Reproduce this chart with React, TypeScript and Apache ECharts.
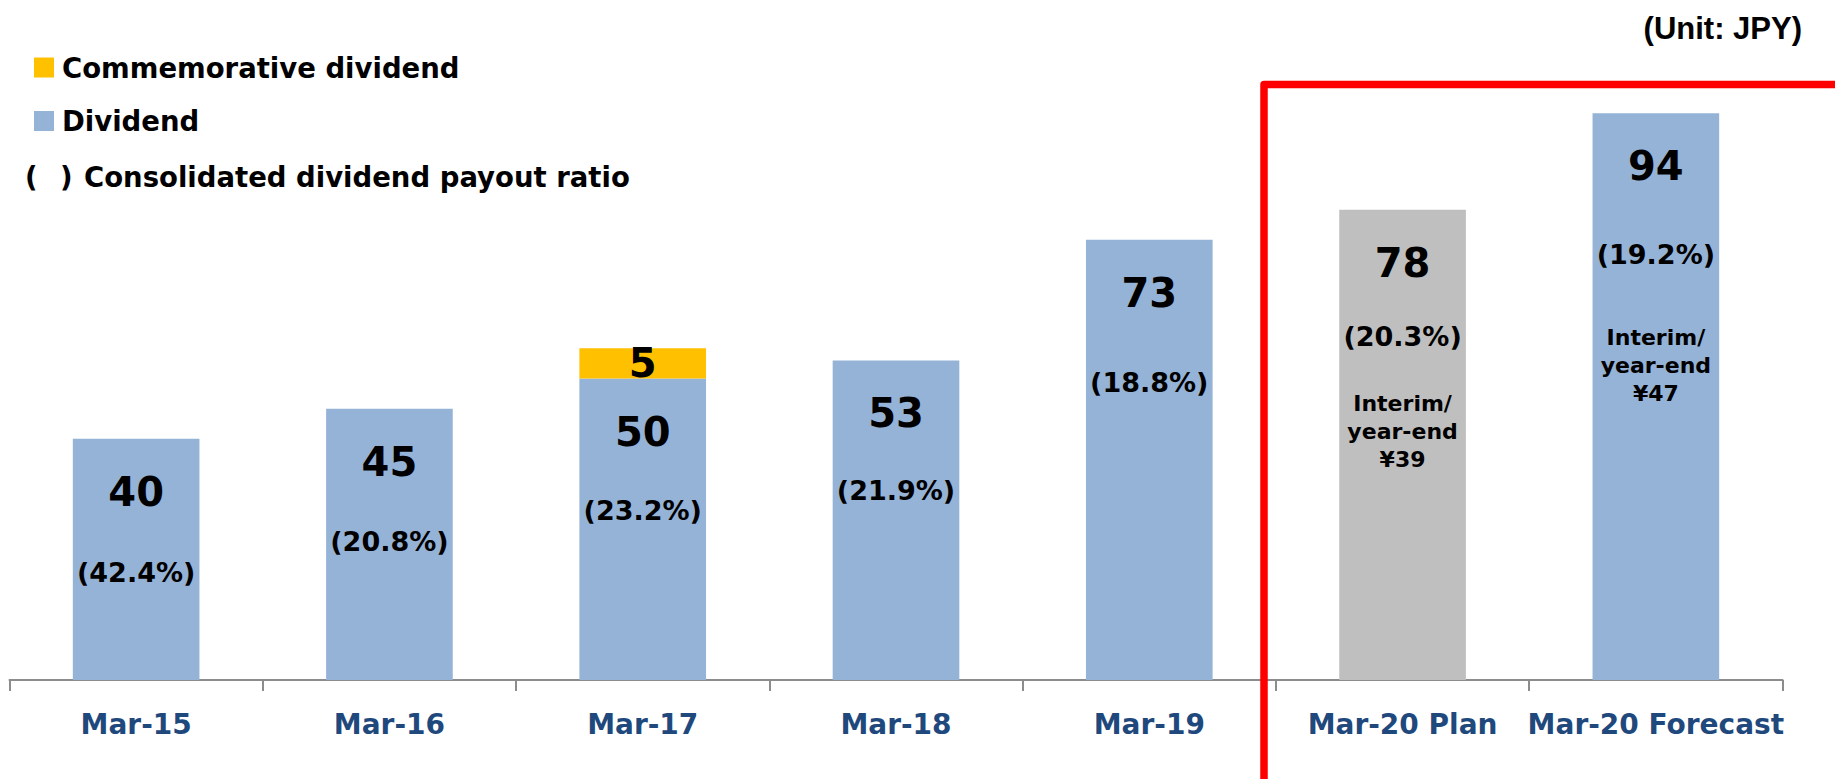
import React, { useEffect, useRef } from "react";
import * as echarts from "echarts";

// ---------- data ----------
const categories = ["Mar-15", "Mar-16", "Mar-17", "Mar-18", "Mar-19", "Mar-20 Plan", "Mar-20 Forecast"];
const dividend = [40, 45, 50, 53, 73, 78, 94];
const commemorative = [null, null, 5, null, null, null, null];
const payoutRatio = [42.4, 20.8, 23.2, 21.9, 18.8, 20.3, 19.2];
const interimYearEnd = [null, null, null, null, null, 39, 47];
const barKind = ["actual", "actual", "actual", "actual", "actual", "plan", "forecast"];

// ---------- layout (label spacing inside bars, px) ----------
const ratioGap = [44, 43, 42, 40, 53, 37, 51];
const interimGap = [0, 0, 0, 0, 0, 38, 54];

const FONT = '"DejaVu Sans", Verdana, sans-serif';
const BLUE = "#95B3D7";
const GRAY = "#BFBFBF";
const GOLD = "#FFC000";

function buildOption() {
  const dividendData = dividend.map((v, i) => {
    let text = `{v|${v}}\n{g| }\n{p|(${payoutRatio[i].toFixed(1)}%)}`;
    if (interimYearEnd[i] != null) {
      text += `\n{h| }\n{n|Interim/}\n{n|year-end}\n{n|¥${interimYearEnd[i]}}`;
    }
    return {
      value: v,
      itemStyle: { color: barKind[i] === "plan" ? GRAY : BLUE },
      label: {
        show: true,
        position: "insideTop",
        distance: 31,
        formatter: text,
        rich: {
          v: { fontSize: 40, fontWeight: "bold", lineHeight: 44, color: "#000", fontFamily: FONT, align: "center" },
          g: { fontSize: 8, lineHeight: ratioGap[i] },
          p: { fontSize: 27, fontWeight: "bold", lineHeight: 30, color: "#000", fontFamily: FONT, align: "center" },
          h: { fontSize: 8, lineHeight: interimGap[i] },
          n: { fontSize: 22, fontWeight: "bold", lineHeight: 28, color: "#000", fontFamily: FONT, align: "center" },
        },
      },
    };
  });

  return {
    animation: false,
    backgroundColor: "#fff",
    grid: { left: 9.5, right: 52.5, top: 77, bottom: 99, containLabel: false },
    legend: {
      data: ["Commemorative dividend", "Dividend"],
      orient: "vertical",
      left: 34,
      top: 53.5,
      padding: 0,
      itemWidth: 20,
      itemHeight: 20,
      itemGap: 25.5,
      icon: "rect",
      selectedMode: false,
      textStyle: { fontSize: 27.5, fontWeight: "bold", color: "#000", fontFamily: FONT, padding: [0, 0, 0, 3] },
    },
    xAxis: {
      type: "category",
      data: categories,
      axisLine: { show: true, lineStyle: { color: "#8C8C8C", width: 2 } },
      axisTick: { show: true, interval: 0, alignWithLabel: false, length: 11, lineStyle: { color: "#8C8C8C", width: 2 } },
      axisLabel: {
        interval: 0,
        margin: 30,
        fontSize: 28,
        fontWeight: "bold",
        color: "#1F497D",
        fontFamily: FONT,
      },
    },
    yAxis: { type: "value", min: 0, max: 100, show: false, splitLine: { show: false } },
    series: [
      {
        name: "Dividend",
        type: "bar",
        stack: "total",
        barWidth: "50%",
        itemStyle: { color: BLUE },
        data: dividendData,
      },
      {
        name: "Commemorative dividend",
        type: "bar",
        stack: "total",
        barWidth: "50%",
        itemStyle: { color: GOLD },
        label: {
          show: true,
          position: "inside",
          fontSize: 40,
          fontWeight: "bold",
          color: "#000",
          fontFamily: FONT,
        },
        data: commemorative,
      },
    ],
    graphic: [
      {
        type: "text",
        x: 1802,
        y: 28,
        style: {
          text: "(Unit: JPY)",
          font: 'bold 31px "Liberation Sans", Arial, sans-serif',
          fill: "#000",
          textAlign: "right",
          textVerticalAlign: "middle",
        },
      },
      {
        type: "text",
        x: 25,
        y: 177,
        style: { text: "(", font: `bold 27.5px ${FONT}`, fill: "#000", textVerticalAlign: "middle" },
      },
      {
        type: "text",
        x: 60,
        y: 177,
        style: { text: ")", font: `bold 27.5px ${FONT}`, fill: "#000", textVerticalAlign: "middle" },
      },
      {
        type: "text",
        x: 84,
        y: 177,
        style: {
          text: "Consolidated dividend payout ratio",
          font: `bold 27.5px ${FONT}`,
          fill: "#000",
          textVerticalAlign: "middle",
        },
      },
      {
        type: "polyline",
        z: 100,
        shape: { points: [[1264, 790], [1264, 84.5], [1845, 84.5]] },
        style: { stroke: "#FF0000", lineWidth: 7.5, fill: "none", lineJoin: "round" },
      },
    ],
  };
}

export default function App() {
  const ref = useRef<HTMLDivElement>(null);
  useEffect(() => {
    document.body.style.margin = "0";
    const chart = echarts.init(ref.current as HTMLDivElement, null, { renderer: "svg" });
    chart.setOption(buildOption() as any);
    return () => chart.dispose();
  }, []);
  return <div ref={ref} style={{ width: 1835, height: 779 }} />;
}
